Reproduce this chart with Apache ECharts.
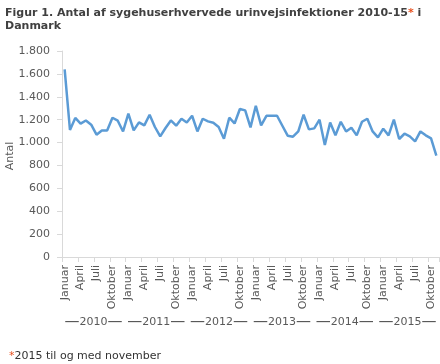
<!DOCTYPE html>
<html>
<head>
<meta charset="utf-8">
<script src="https://cdn.jsdelivr.net/npm/echarts@6/dist/echarts.min.js"></script>
<style>
html,body{margin:0;padding:0;background:#fff;}
#c{width:440px;height:364px;}
</style>
</head>
<body>
<div id="c"></div>
<script>
const monthNames = ['Januar','Februar','Marts','April','Maj','Juni','Juli','August','September','Oktober','November','December'];
const years = ['2010','2011','2012','2013','2014','2015'];
const monthsIn2015 = 11;
const values2010 = [1640,1110,1215,1165,1193,1156,1069,1106,1106,1217,1191,1097];
const values2011 = [1252,1106,1176,1150,1243,1136,1054,1127,1193,1147,1208,1176];
const values2012 = [1234,1097,1208,1185,1173,1136,1034,1217,1167,1293,1281,1133];
const values2013 = [1322,1150,1234,1234,1234,1147,1060,1051,1097,1243,1115,1124];
const values2014 = [1200,979,1176,1063,1182,1097,1130,1063,1182,1208,1097,1045];
const values2015 = [1121,1063,1200,1031,1077,1054,1011,1097,1063,1036,885];
const yTicks = [0,200,400,600,800,1000,1200,1400,1600,1800];

const categories = [];
years.forEach((y, i) => {
  const n = i === years.length - 1 ? monthsIn2015 : 12;
  for (let m = 0; m < n; m++) categories.push(monthNames[m]);
});
const values = [].concat(values2010, values2011, values2012, values2013, values2014, values2015);

const FONT = '"DejaVu Sans", Verdana, sans-serif';
const chart = echarts.init(document.getElementById('c'), null, {renderer: 'canvas'});
chart.setOption({
  animation: false,
  title: [{
    text: 'Figur 1. Antal af sygehuserhvervede urinvejsinfektioner 2010-15{a|*} i\nDanmark',
    left: 0, top: 2,
    textStyle: {
      fontFamily: FONT, fontSize: 11, fontWeight: 'bold', color: '#404040', lineHeight: 13,
      rich: {a: {fontFamily: FONT, fontSize: 11, fontWeight: 'bold', color: '#e8501e', lineHeight: 13}}
    }
  }, {
    text: '{a|*}2015 til og med november',
    left: 4, top: 346,
    textStyle: {
      fontFamily: FONT, fontSize: 11, fontWeight: 'normal', color: '#333',
      rich: {a: {fontFamily: FONT, fontSize: 11, color: '#e8501e'}}
    }
  }],
  graphic: [{
    type: 'text',
    x: 10, y: 156,
    rotation: Math.PI / 2,
    style: {
      text: 'Antal', fontFamily: FONT, fontSize: 11, fill: '#595959',
      textAlign: 'center', textVerticalAlign: 'middle'
    }
  }],
  grid: {left: 62, right: 1, top: 51, bottom: 107, containLabel: false, outerBoundsMode: 'none'},
  xAxis: [{
    type: 'category',
    data: categories,
    boundaryGap: true,
    axisLine: {lineStyle: {color: '#d9d9d9', width: 1}},
    axisTick: {show: true, interval: 2, length: 5, lineStyle: {color: '#d9d9d9'}},
    axisLabel: {interval: 2, rotate: 90, margin: 8, fontFamily: FONT, fontSize: 11, color: '#595959'}
  }, {
    type: 'category',
    data: years,
    position: 'bottom',
    offset: 58,
    boundaryGap: true,
    axisLine: {show: false},
    axisTick: {show: false},
    axisLabel: {
      interval: 0, margin: 0, fontFamily: FONT, fontSize: 11, color: '#595959',
      formatter: v => '{d|—}' + v + '{d|—}',
      rich: {d: {fontFamily: FONT, fontSize: 15, color: '#595959'}}
    }
  }],
  yAxis: {
    type: 'value',
    min: 0, max: 1800, interval: 200,
    axisLine: {show: true, lineStyle: {color: '#d9d9d9'}},
    axisTick: {show: true, length: 5, lineStyle: {color: '#d9d9d9'}},
    splitLine: {show: false},
    axisLabel: {
      margin: 12, fontFamily: FONT, fontSize: 11, color: '#595959',
      formatter: v => yTicks.includes(v) ? String(v).replace(/\B(?=(\d{3})+(?!\d))/g, '.') : ''
    }
  },
  series: [{
    type: 'line',
    xAxisIndex: 0,
    data: values,
    showSymbol: false,
    symbol: 'none',
    lineStyle: {color: '#5b9bd5', width: 2.5},
    itemStyle: {color: '#5b9bd5'}
  }]
});
</script>
</body>
</html>
